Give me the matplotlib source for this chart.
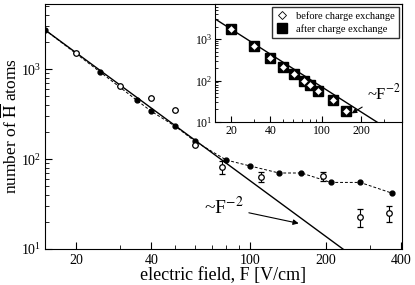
import matplotlib
matplotlib.use("Agg")
import matplotlib.pyplot as plt
import numpy as np
from matplotlib.ticker import FixedLocator, FixedFormatter, NullFormatter, LogLocator

plt.rcParams['font.family'] = ['Liberation Serif', 'DejaVu Serif']
plt.rcParams['mathtext.fontset'] = 'stix'

# main panel data
F_filled = [15, 25, 35, 40, 50, 60, 80, 100, 130, 160, 210, 275, 370]
N_filled = [2730, 926, 451, 340, 231, 157, 97.5, 83.6, 70, 70, 55, 55, 41.7]
F_open = [20, 30, 40, 50, 60, 77, 110, 196, 275, 358]
N_open = [1510, 646, 474, 348, 142, 81.5, 63, 64.5, 22.5, 25]
N_open_err = [0, 0, 0, 0, 0, 14, 8, 7, 5, 5]

# inset data
F_in = [20, 30, 40, 50, 61, 72, 81, 92, 122, 153]
N_before = [1750, 675, 344, 207, 140, 100, 80, 57, 34.5, 18.5]
N_after = [1750, 675, 344, 207, 140, 100, 80, 57, 34.5, 18.5]

# ~F^-2 guide lines
C_main, p_main = 6.85e5, 2.04
C_in, p_in = 6.9e5, 2.0

xmaj = [20, 40, 100, 200, 400]
xmin = [30, 50, 60, 70, 80, 90, 300]

fig = plt.figure(figsize=(4.15, 2.85), dpi=100)
ax = fig.add_axes([0.1084, 0.1263, 0.8603, 0.8597])

Fl = np.logspace(np.log10(15), np.log10(400), 200)
ax.plot(Fl, C_main * Fl ** -p_main, color='black', lw=1.0)
ax.plot(F_filled, N_filled, 'o--', color='black', ms=3.5, lw=0.7, dashes=(3, 2))
ax.errorbar(F_open, N_open, yerr=N_open_err, fmt='o', mfc='white', mec='black',
            ecolor='black', ms=4, mew=0.9, elinewidth=0.8, capsize=2.5)

ax.set_xscale('log')
ax.set_yscale('log')
ax.set_xlim(15, 405)
ax.set_ylim(10, 5300)
ax.xaxis.set_major_locator(FixedLocator(xmaj))
ax.xaxis.set_minor_locator(FixedLocator(xmin))
ax.xaxis.set_major_formatter(FixedFormatter([str(v) for v in xmaj]))
ax.xaxis.set_minor_formatter(NullFormatter())
ax.yaxis.set_major_locator(LogLocator(base=10))
ax.yaxis.set_minor_locator(LogLocator(base=10, subs=np.arange(2, 10)))
ax.tick_params(which='both', direction='in', top=False, right=False, labelsize=10)
ax.tick_params(axis='y', pad=2.5)
ax.tick_params(which='major', length=5)
ax.tick_params(which='minor', length=3)
ax.set_xlabel('electric field, F [V/cm]', fontsize=13, labelpad=0)
ax.set_ylabel(r'number of $\overline{\mathrm{H}}$ atoms', fontsize=12.5, labelpad=0)
ax.yaxis.set_label_coords(-0.066, 0.5)

ax.annotate(r'~F$^{-2}$', xy=(160, 19), xytext=(78, 29), fontsize=14,
            ha='center', va='center',
            arrowprops=dict(arrowstyle='-|>', color='black', lw=0.8, mutation_scale=8))

# inset
ins = fig.add_axes([0.518, 0.572, 0.4507, 0.414])
Fi = np.logspace(np.log10(15), np.log10(400), 200)
ins.plot(Fi, C_in * Fi ** -p_in, color='black', lw=1.0)
ins.plot(F_in, N_after, 's', color='black', ms=6.5, label='after charge exchange')
ins.plot(F_in, N_before, 'D', mfc='white', mec='black', ms=4, mew=0.6,
         label='before charge exchange')
ins.set_xscale('log')
ins.set_yscale('log')
ins.set_xlim(15, 410)
ins.set_ylim(10, 7000)
ins.xaxis.set_major_locator(FixedLocator(xmaj[:4]))
ins.xaxis.set_minor_locator(FixedLocator(xmin))
ins.xaxis.set_major_formatter(FixedFormatter([str(v) for v in xmaj[:4]]))
ins.xaxis.set_minor_formatter(NullFormatter())
ins.yaxis.set_major_locator(LogLocator(base=10))
ins.yaxis.set_minor_locator(LogLocator(base=10, subs=np.arange(2, 10)))
ins.tick_params(which='both', direction='in', top=False, right=False, labelsize=8.5, pad=2)
ins.tick_params(which='major', length=4)
ins.tick_params(which='minor', length=2)
h, l = ins.get_legend_handles_labels()
ins.legend(h[::-1], l[::-1], loc='upper right', fontsize=7.5, frameon=True, fancybox=False,
           edgecolor='black', handlelength=1.2, borderpad=0.4, labelspacing=0.3,
           handletextpad=0.7, borderaxespad=0.3)
ins.annotate(r'~F$^{-2}$', xy=(165, 15.5), xytext=(300, 48), fontsize=12,
             ha='center', va='center',
             arrowprops=dict(arrowstyle='-|>', color='black', lw=0.8, mutation_scale=7,
                             shrinkA=2, shrinkB=1))

fig.savefig('out.png', dpi=100)
